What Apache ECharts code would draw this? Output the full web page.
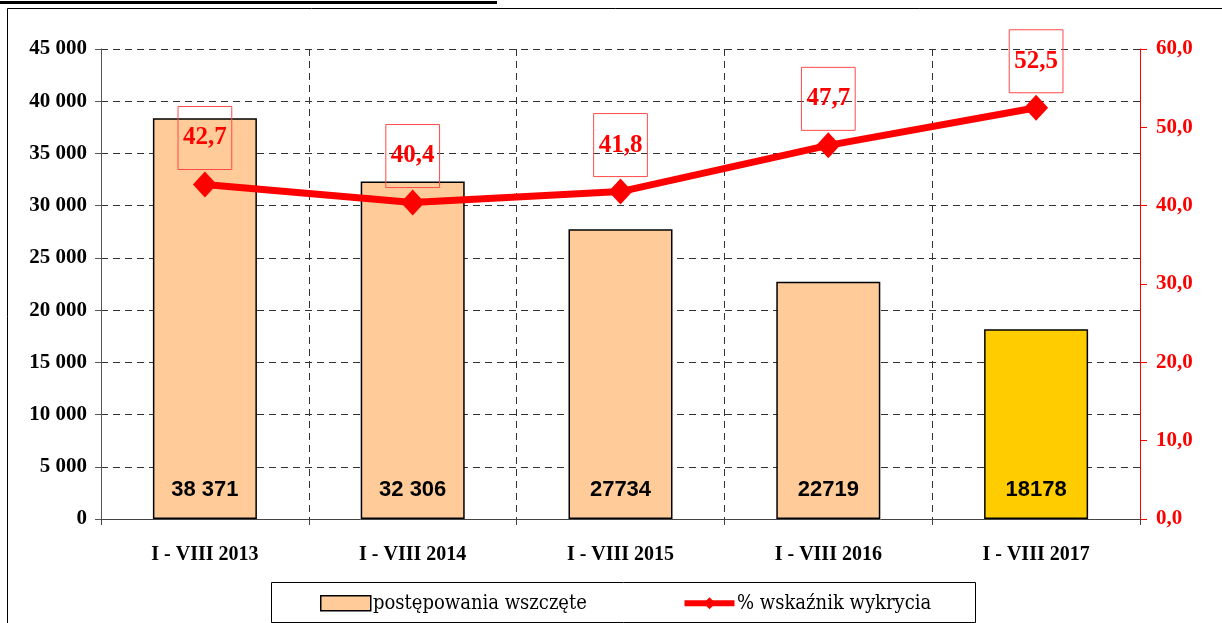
<!DOCTYPE html>
<html>
<head>
<meta charset="utf-8">
<script src="https://cdn.jsdelivr.net/npm/echarts@6/dist/echarts.min.js"></script>
<style>
	html, body { margin: 0; padding: 0; background: #fff; }
	#wykres { width: 1222px; height: 623px; }
</style>
</head>
<body>
<div id="wykres"></div>
<script>
	// dane
	var okresy = ['I - VIII 2013', 'I - VIII 2014', 'I - VIII 2015', 'I - VIII 2016', 'I - VIII 2017'];
	var wszczete = [38371, 32306, 27734, 22719, 18178];
	var wszczeteEtykiety = ['38 371', '32 306', '27734', '22719', '18178'];
	var wykrywalnosc = [42.7, 40.4, 41.8, 47.7, 52.5];
	var kolorySlupkow = ['#FFCC99', '#FFCC99', '#FFCC99', '#FFCC99', '#FFCC00'];
	var nazwySerii = ['postępowania wszczęte', '% wskaźnik wykrycia'];

	var serif = 'Liberation Serif';
	var fontLegendy = '20px "DejaVu Serif Condensed", "DejaVu Serif", serif';
	var myWykres = echarts.init(document.getElementById('wykres'));

	var dashed = { color: '#333', width: 1, type: [7, 5] };

	option = {
		animation: false,
		backgroundColor: '#fff',
		textStyle: { fontFamily: serif },
		grid: {
			left: 101,
			right: 82,
			top: 49,
			bottom: 104
		},
		legend: {
			left: 315,
			top: 590,
			itemWidth: 50,
			itemHeight: 15,
			itemGap: 310,
			// tekst legendy rysowany w graphic
			formatter: function() { return ''; },
			data: [
				{
					name: nazwySerii[0],
					icon: 'rect',
					itemStyle: { color: '#FFCC99', borderColor: '#000', borderWidth: 1.5 }
				},
				{
					name: nazwySerii[1],
					lineStyle: { width: 6, color: '#FF0000' }
				}
			]
		},
		graphic: [
			{ // ramka
				type: 'rect',
				shape: { x: 7.5, y: 8.5, width: 1300, height: 700 },
				style: { fill: 'none', stroke: '#000', lineWidth: 1 }
			},
			{ // podkreślenie tytułu (ucięty)
				type: 'line',
				shape: { x1: 0, y1: 2.5, x2: 497, y2: 2.5 },
				style: { stroke: '#000', lineWidth: 3 }
			},
			{ // ramka legendy
				type: 'rect',
				shape: { x: 271.5, y: 582.5, width: 704, height: 40 },
				style: { fill: 'none', stroke: '#000', lineWidth: 1 }
			},
			{
				type: 'text',
				left: 373,
				top: 594,
				style: { text: nazwySerii[0], font: fontLegendy, fill: '#000' }
			},
			{
				type: 'text',
				left: 737,
				top: 594,
				style: { text: nazwySerii[1], font: fontLegendy, fill: '#000' }
			}
		],
		xAxis: {
			type: 'category',
			data: okresy,
			boundaryGap: true,
			axisLine: { lineStyle: { color: '#444', width: 1 } },
			axisTick: { show: true, length: 6, lineStyle: { color: '#444' } },
			axisLabel: {
				margin: 26,
				fontFamily: serif,
				fontWeight: 'bold',
				fontSize: 20,
				color: '#000'
			},
			splitLine: { show: true, lineStyle: dashed }
		},
		yAxis: [
			{
				type: 'value',
				min: 0,
				max: 45000,
				interval: 5000,
				axisLine: { show: true, lineStyle: { color: '#555' } },
				axisTick: { show: true, length: 6, lineStyle: { color: '#555' } },
				axisLabel: {
					margin: 14,
					fontFamily: serif,
					fontWeight: 'bold',
					fontSize: 21,
					color: '#000',
					formatter: function(v) {
						return String(v).replace(/\B(?=(\d{3})+(?!\d))/g, ' ');
					}
				},
				splitLine: { show: true, lineStyle: dashed }
			},
			{
				type: 'value',
				min: 0,
				max: 60,
				interval: 10,
				position: 'right',
				axisLine: { show: true, lineStyle: { color: '#FF0000' } },
				axisTick: { show: true, length: 7, lineStyle: { color: '#FF0000' } },
				axisLabel: {
					margin: 16,
					fontFamily: serif,
					fontWeight: 'bold',
					fontSize: 21,
					color: '#FF0000',
					formatter: function(v) {
						return v.toFixed(1).replace('.', ',');
					}
				},
				splitLine: { show: false }
			}
		],
		series: [
			{
				name: nazwySerii[0],
				type: 'bar',
				yAxisIndex: 0,
				barWidth: 104,
				itemStyle: {
					color: '#FFCC99',
					borderColor: '#000',
					borderWidth: 1.5
				},
				label: {
					show: true,
					position: 'insideBottom',
					distance: 18,
					fontFamily: 'Liberation Sans',
					fontWeight: 'bold',
					fontSize: 22,
					color: '#000',
					formatter: function(p) {
						return wszczeteEtykiety[p.dataIndex];
					}
				},
				data: wszczete.map(function(v, i) {
					return { value: v, itemStyle: { color: kolorySlupkow[i] } };
				}),
				z: 2
			},
			{
				name: nazwySerii[1],
				type: 'line',
				yAxisIndex: 1,
				symbol: 'diamond',
				symbolSize: [24, 26],
				lineStyle: { color: '#FF0000', width: 7 },
				itemStyle: { color: '#FF0000' },
				label: {
					show: true,
					position: 'top',
					distance: 2,
					fontFamily: serif,
					fontWeight: 'bold',
					fontSize: 25,
					color: '#FF0000',
					borderColor: '#FF4A4A',
					borderWidth: 1,
					padding: [19, 5, 19, 5],
					formatter: function(p) {
						return p.value.toFixed(1).replace('.', ',');
					}
				},
				data: wykrywalnosc,
				z: 5
			}
		]
	};

	myWykres.setOption(option);
</script>
</body>
</html>
